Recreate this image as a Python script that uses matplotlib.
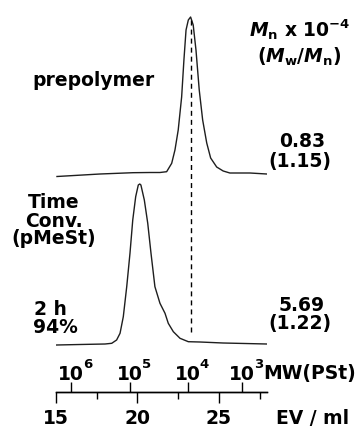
import matplotlib
matplotlib.use("Agg")
import matplotlib.pyplot as plt

# SEC traces: elution volume (ml) vs detector response (arb.)
pre_ev = [15.06, 17.70, 19.72, 20.77, 21.38, 21.79, 22.10, 22.30, 22.50, 22.71,
          22.85, 22.98, 23.12, 23.26, 23.42, 23.59, 23.79, 24.00, 24.25, 24.49,
          24.86, 25.26, 25.67, 26.90, 27.93]
pre_int = [0.5, 3, 4.3, 4.5, 4.5, 5.3, 13.7, 27, 47, 80,
           117, 147, 157, 160, 152, 127, 87, 57, 34, 19,
           10, 6, 4, 4, 3]

post_ev = [15.04, 16.47, 18.01, 18.42, 18.72, 18.93, 19.13, 19.34, 19.54, 19.71,
           19.89, 20.05, 20.14, 20.21, 20.42, 20.63, 20.83, 21.07, 21.38, 21.69,
           21.89, 22.20, 22.61, 23.12, 23.83, 25.25, 27.93]
post_int = [0, 0.5, 1, 1.7, 5, 11.7, 28.3, 58.3, 91.7, 125,
            148.3, 160, 161, 160, 145, 121.7, 91.7, 58.3, 41.7, 31.7,
            21.7, 13.3, 6.7, 3.3, 3, 2, 1]

ev_major = [15, 20, 25]
ev_minor = [17.5, 22.5, 27.5]
mw_exp = ["6", "5", "4", "3"]
mw_tick_ev = [15.92, 19.54, 23.08, 26.39]

pre_mn, pre_pdi = "0.83", "(1.15)"
post_mn, post_pdi = "5.69", "(1.22)"

W, H = 361, 428
plt.rcParams["font.family"] = "DejaVu Sans"
plt.rcParams["font.weight"] = "bold"
plt.rcParams["mathtext.fontset"] = "custom"
plt.rcParams["mathtext.rm"] = "DejaVu Sans:bold"
plt.rcParams["mathtext.bf"] = "DejaVu Sans:bold"
plt.rcParams["mathtext.it"] = "DejaVu Sans:italic:bold"

fig = plt.figure(figsize=(W / 100, H / 100), dpi=100)
ax = fig.add_axes([56 / W, 1 - 392 / H, (266.7 - 56) / W, 392 / H])

pre_base, post_base = 215, 47
lc = "#1e1e1e"
ax.plot(pre_ev, [v + pre_base for v in pre_int], color=lc, lw=1.0)
ax.plot(post_ev, [v + post_base for v in post_int], color=lc, lw=1.0)

# dashed guide through prepolymer peak
peak_ev = pre_ev[pre_int.index(max(pre_int))]
ax.plot([peak_ev, peak_ev], [post_base + 13, pre_base + max(pre_int)],
        color="black", lw=1.0, ls=(0, (3.6, 2.9)))

ax.set_xlim(15, 27.93)
ax.set_ylim(0, 392)
for s in ["left", "right", "top"]:
    ax.spines[s].set_visible(False)
ax.spines["bottom"].set_linewidth(1.0)
ax.set_yticks([])
ax.set_xticks(ev_major)
ax.set_xticks(ev_minor, minor=True)
ax.tick_params(axis="x", which="major", length=8, width=1.0, pad=4.5, labelsize=13.5)
ax.tick_params(axis="x", which="minor", length=5, width=1.0)

# molecular weight scale (polystyrene calibration), ticks pointing up
sec = ax.secondary_xaxis(0.0)
sec.set_alignment("top")
sec.set_xticks(mw_tick_ev, labels=[""] * len(mw_tick_ev))
sec.tick_params(axis="x", direction="out", length=7, width=1.0)
sec.xaxis.set_minor_locator(matplotlib.ticker.NullLocator())
sec.spines["top"].set_linewidth(1.0)
for ev, e in zip(mw_tick_ev, mw_exp):
    ax.annotate("10", (ev, 0), xytext=(0, 8.8), textcoords="offset points",
                ha="center", va="baseline", fontsize=13.5)
    ax.annotate(e, (ev, 0), xytext=(12.0, 17.5), textcoords="offset points",
                ha="center", va="baseline", fontsize=9.5)


def txt(px, py, s, ha="center", size=13.5):
    fig.text(px / W, 1 - py / H, s, ha=ha, va="baseline", fontsize=size)


txt(94, 86.5, "prepolymer")
txt(54, 208, "Time")
txt(54, 227, "Conv.")
txt(54, 244.5, "(pMeSt)")
txt(34, 315, "2 h", ha="left")
txt(33, 333, "94%", ha="left")

txt(300, 36.7, r"$M_{\mathrm{n}}$ x 10$^{-4}$")
txt(299, 63, r"($M_{\mathrm{w}}$/$M_{\mathrm{n}}$)")
txt(302, 147, pre_mn)
txt(300, 167, pre_pdi)
txt(302, 310.7, post_mn)
txt(300, 329, post_pdi)

txt(263, 379, "MW(PSt)", ha="left")
txt(276, 423.5, "EV / ml", ha="left")

fig.savefig("out.png", dpi=100)
